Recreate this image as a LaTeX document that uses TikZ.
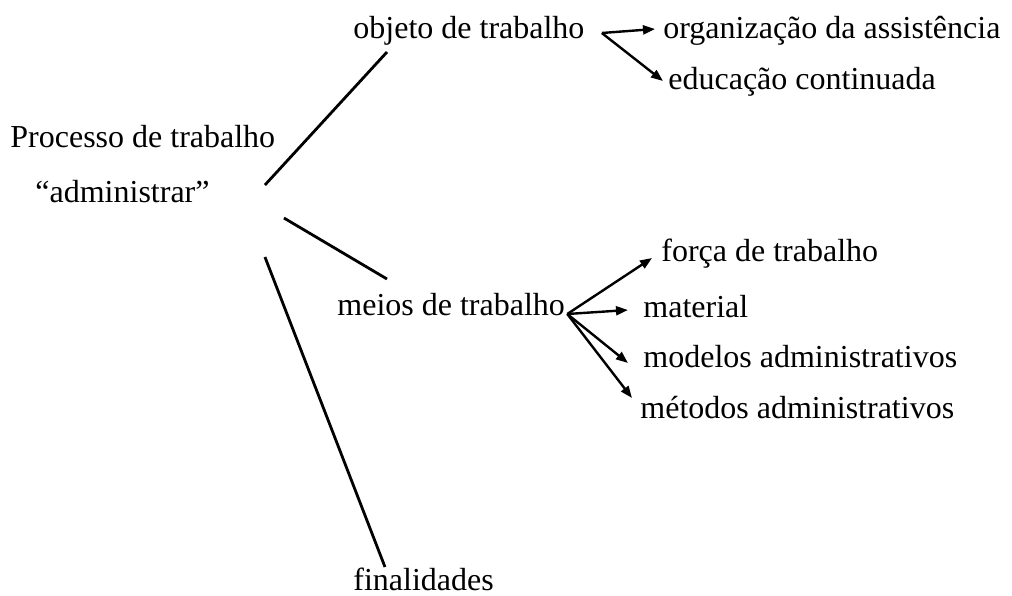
\documentclass[tikz,border=0pt]{standalone}
\usepackage{fontspec}
\setmainfont{Liberation Serif}
\usetikzlibrary{arrows.meta, calc}

\begin{document}
\begin{tikzpicture}[x=0.5pt, y=-0.5pt,
      lbl/.style={anchor=base west, inner sep=0pt, font=\fontsize{16}{19}\selectfont},
      ln/.style={line width=1.4pt},
      arr/.style={line width=1.2pt, -{Triangle[length=6pt, width=4.5pt]}}]
    \useasboundingbox (0,0) rectangle (1012,595);
    % left
    \node[lbl] (proc) at (10,147) {Processo de trabalho};
    \node[lbl] (adm)  at (35,202) {“administrar”};
    % middle
    \node[lbl] (obj)   at (353,38)  {objeto de trabalho};
    \node[lbl] (meios) at (337,315) {meios de trabalho};
    \node[lbl] (fin)   at (353,590) {finalidades};
    % right
    \node[lbl] (org)   at (663,38)  {organização da assistência};
    \node[lbl] (edu)   at (668,89)  {educação continuada};
    \node[lbl] (forca) at (661,261) {força de trabalho};
    \node[lbl] (mat)   at (643,317) {material};
    \node[lbl] (mod)   at (643,367) {modelos administrativos};
    \node[lbl] (met)   at (640,418) {métodos administrativos};
    % branches
    \draw[ln] ([shift={(55,-17)}]adm.base east) -- ([shift={(34,14)}]obj.base west);
    \draw[ln] ([shift={(74,16)}]adm.base east) -- ([shift={(50,-36)}]meios.base west);
    \draw[ln] ([shift={(55,55)}]adm.base east) -- ([shift={(32,-23)}]fin.base west);
    % arrows
    \coordinate (ov) at ([shift={(17,-5)}]obj.base east);
    \draw[arr] (ov) -- ([shift={(-8,-9)}]org.base west);
    \draw[arr] (ov) -- ([shift={(-5,-8)}]edu.base west);
    \coordinate (mv) at ([shift={(2,-1)}]meios.base east);
    \foreach \t/\dx/\dy in {forca/-9/-3, mat/-15/-7, mod/-15/-4, met/-8/-20}
      \draw[arr] (mv) -- ([shift={(\dx,\dy)}]\t.base west);
  \end{tikzpicture}
\end{document}
